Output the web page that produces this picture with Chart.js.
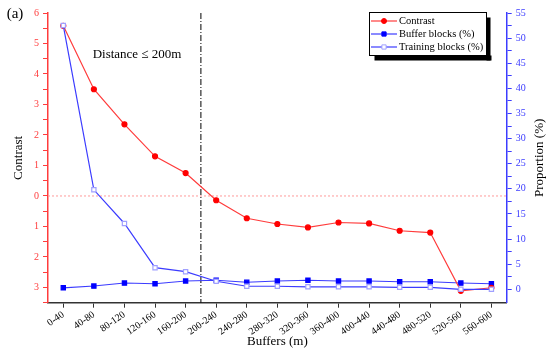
<!DOCTYPE html>
<html>
<head>
<meta charset="utf-8">
<script src="https://cdn.jsdelivr.net/npm/chart.js@4.4.1/dist/chart.umd.min.js"></script>
<style>
    html, body { margin: 0; padding: 0; background: #fff; }
    #wrap { width: 550px; height: 356px; position: relative; }
</style>
</head>
<body>
<div id="wrap"><canvas id="chart_buffers" width="550" height="356"></canvas></div>
<script>
/**
 * 1. Data
 * 2. Plugins
 * 3. Chart
 */

/** Data */
const buffers = ['0-40', '40-80', '80-120', '120-160', '160-200', '200-240', '240-280', '280-320',
    '320-360', '360-400', '400-440', '440-480', '480-520', '520-560', '560-600'];
const contrast = [5.58, 3.50, 2.35, 1.30, 0.75, -0.14, -0.73, -0.92, -1.03, -0.87, -0.90, -1.14, -1.20, -3.11, -3.01];
const bufferBlocks = [0.3, 0.65, 1.25, 1.1, 1.65, 1.8, 1.4, 1.65, 1.8, 1.65, 1.65, 1.5, 1.5, 1.25, 1.1];
const trainingBlocks = [52.5, 19.8, 13.1, 4.3, 3.5, 1.6, 0.6, 0.6, 0.5, 0.5, 0.5, 0.4, 0.4, 0.0, 0.0];
const contrastTicks = [-3.5, -3, -2.5, -2, -1.5, -1, -0.5, 0, 0.5, 1, 1.5, 2, 2.5, 3, 3.5, 4, 4.5, 5, 5.5, 6];
const proportionTicks = [0, 2.5, 5, 7.5, 10, 12.5, 15, 17.5, 20, 22.5, 25, 27.5, 30, 32.5, 35, 37.5, 40, 42.5, 45, 47.5, 50, 52.5, 55];
const splitAt = 4.5; // between 160-200 and 200-240
const splitLabel = 'Distance \u2264 200m';

const RED = '#ff3c3c';
const BLUE = '#3c3cff';
const SERIF = '"Liberation Serif", "DejaVu Serif", serif';

/** Plugins */
let guides = {
    id: 'guides',
    beforeDatasetsDraw: function (chart) {
        const ctx = chart.ctx;
        const area = chart.chartArea;
        const x = chart.scales.x.getPixelForValue(splitAt);
        const y0 = chart.scales.y.getPixelForValue(0);
        ctx.save();
        // zero line of contrast
        ctx.strokeStyle = '#ff9a9a';
        ctx.lineWidth = 1;
        ctx.setLineDash([2, 2]);
        ctx.beginPath();
        ctx.moveTo(area.left, y0);
        ctx.lineTo(area.right, y0);
        ctx.stroke();
        // 200m split
        ctx.strokeStyle = '#000';
        ctx.setLineDash([6, 2, 1, 2]);
        ctx.beginPath();
        ctx.moveTo(x, area.top);
        ctx.lineTo(x, area.bottom);
        ctx.stroke();
        ctx.restore();
    },
    afterDraw: function (chart) {
        const ctx = chart.ctx;
        const area = chart.chartArea;
        ctx.save();
        ctx.fillStyle = '#000';
        ctx.textAlign = 'center';
        ctx.textBaseline = 'middle';

        ctx.font = '13px ' + SERIF;
        ctx.fillText(splitLabel, 137, 55);
        ctx.fillText('Buffers (m)', (area.left + area.right) / 2, 342);

        ctx.font = '15px ' + SERIF;
        ctx.fillText('(a)', 15, 14);

        // axis titles
        const midY = (area.top + area.bottom) / 2;
        ctx.font = '13px ' + SERIF;
        ctx.save();
        ctx.translate(19, midY);
        ctx.rotate(-Math.PI / 2);
        ctx.fillText('Contrast', 0, 0);
        ctx.restore();
        ctx.save();
        ctx.translate(540, midY);
        ctx.rotate(-Math.PI / 2);
        ctx.fillText('Proportion (%)', 0, 0);
        ctx.restore();

        Local.drawLegend(ctx, chart);
        ctx.restore();
    }
};

let Local = {
    drawLegend: function (ctx, chart) {
        const box = { x: 369.5, y: 12.5, w: 117, h: 43 };
        ctx.fillStyle = '#000';
        ctx.fillRect(box.x + 5, box.y + box.h, box.w, 5);
        ctx.fillRect(box.x + box.w, box.y + 5, 4, box.h);
        ctx.fillStyle = '#fff';
        ctx.fillRect(box.x, box.y, box.w, box.h);
        ctx.strokeStyle = '#000';
        ctx.lineWidth = 1;
        ctx.strokeRect(box.x, box.y, box.w, box.h);

        ctx.font = '10.5px ' + SERIF;
        ctx.textAlign = 'left';
        ctx.textBaseline = 'middle';
        chart.data.datasets.forEach(function (ds, i) {
            const y = 21 + i * 13;
            ctx.strokeStyle = ds.borderColor;
            ctx.lineWidth = 1.2;
            ctx.beginPath();
            ctx.moveTo(371, y);
            ctx.lineTo(397, y);
            ctx.stroke();
            ctx.fillStyle = ds.pointBackgroundColor;
            ctx.strokeStyle = ds.pointBorderColor;
            ctx.lineWidth = 1;
            Chart.helpers.drawPoint(ctx, {
                pointStyle: ds.pointStyle,
                radius: ds.pointRadius,
                borderWidth: 1
            }, 384, y);
            ctx.fillStyle = '#000';
            ctx.fillText(ds.label, 399, y + 0.5);
        });
    }
};

/** Chart */
let ctx = document.getElementById('chart_buffers').getContext('2d');
new Chart(ctx, {
    type: 'line',
    data: {
        labels: buffers,
        datasets: [{
            label: 'Contrast',
            data: contrast,
            yAxisID: 'y',
            order: 1,
            borderColor: RED,
            borderWidth: 1.2,
            pointStyle: 'circle',
            pointRadius: 2.5,
            pointBackgroundColor: '#ff0000',
            pointBorderColor: '#ff0000'
        }, {
            label: 'Buffer blocks (%)',
            data: bufferBlocks,
            yAxisID: 'y1',
            order: 2,
            borderColor: BLUE,
            borderWidth: 1.2,
            pointStyle: 'rect',
            pointRadius: 3,
            pointBackgroundColor: '#0000ff',
            pointBorderColor: '#0000ff'
        }, {
            label: 'Training blocks (%)',
            data: trainingBlocks,
            yAxisID: 'y1',
            order: 0,
            borderColor: BLUE,
            borderWidth: 1.2,
            pointStyle: 'rect',
            pointRadius: 3,
            pointBackgroundColor: '#ffffff',
            pointBorderColor: '#a0a0ff'
        }]
    },
    options: {
        responsive: false,
        animation: false,
        layout: { padding: { top: 13, left: 0, right: 0, bottom: 0 } },
        plugins: {
            legend: { display: false },
            tooltip: { enabled: false }
        },
        scales: {
            x: {
                type: 'category',
                offset: true,
                grid: { drawOnChartArea: false, color: '#333', tickLength: 5 },
                border: { color: '#333', width: 1.5 },
                ticks: {
                    color: '#000',
                    font: { family: SERIF, size: 10 },
                    minRotation: 35,
                    maxRotation: 35,
                    autoSkip: false,
                    padding: 1
                },
                afterFit: function (scale) { scale.height = 53.3; }
            },
            y: {
                position: 'left',
                min: -3.5,
                max: 6,
                grid: { drawOnChartArea: false, color: RED, tickLength: 5 },
                border: { color: RED, width: 1.5 },
                ticks: {
                    color: RED,
                    font: { family: SERIF, size: 10 },
                    padding: 4,
                    autoSkip: false,
                    callback: function (v) { return Number.isInteger(v) ? String(Math.abs(v)) : ''; }
                },
                afterBuildTicks: function (scale) {
                    scale.ticks = contrastTicks.map(function (v) { return { value: v }; });
                },
                afterFit: function (scale) { scale.width = 48; }
            },
            y1: {
                position: 'right',
                min: -2.67,
                max: 55,
                grid: { drawOnChartArea: false, color: BLUE, tickLength: 5 },
                border: { color: BLUE, width: 1.5 },
                ticks: {
                    color: BLUE,
                    font: { family: SERIF, size: 10 },
                    padding: 4,
                    autoSkip: false,
                    callback: function (v) { return v % 5 === 0 ? String(v) : ''; }
                },
                afterBuildTicks: function (scale) {
                    scale.ticks = proportionTicks.map(function (v) { return { value: v }; });
                },
                afterFit: function (scale) { scale.width = 43.3; }
            }
        }
    },
    plugins: [guides]
});
</script>
</body>
</html>
